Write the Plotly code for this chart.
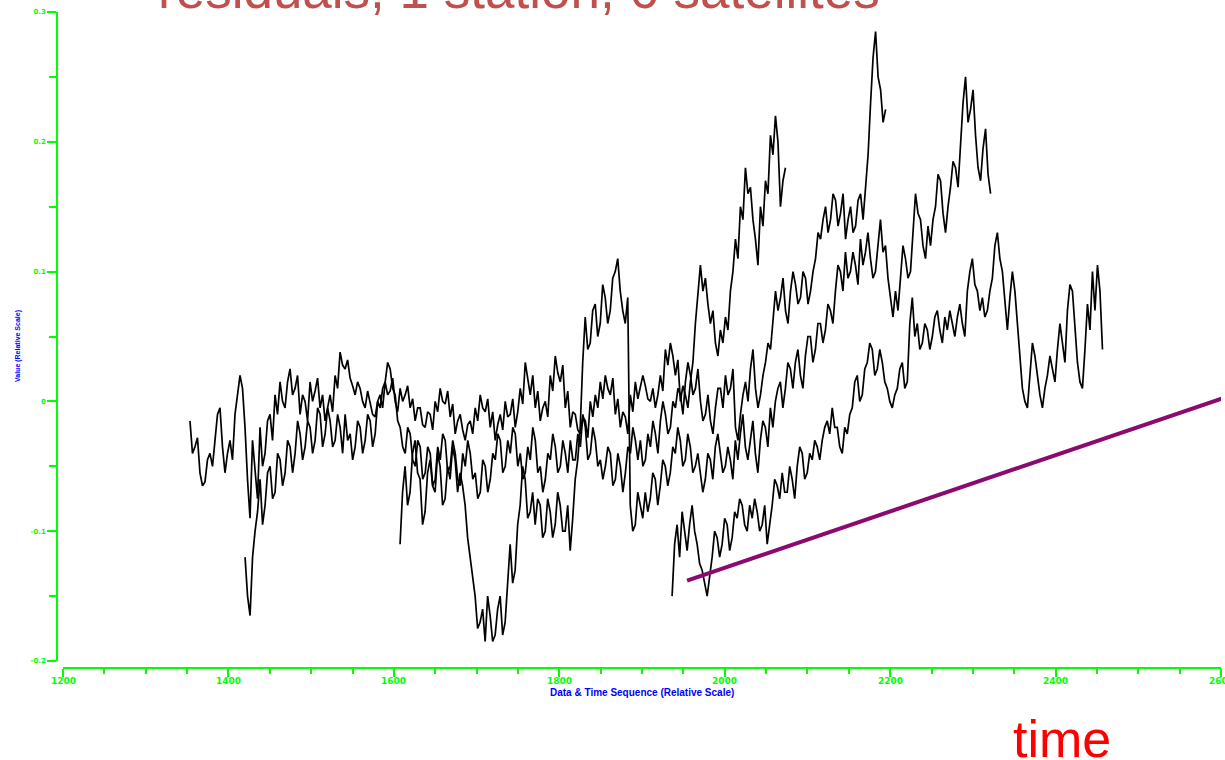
import numpy as np
import plotly.graph_objects as go

# ---- residual series (one per satellite pass), sampled every DT time units ----
DT = 3.025

pass_a_start = 1353.5
pass_a = [
    -0.015, -0.040, -0.035, -0.028, -0.055, -0.065, -0.062, -0.045, -0.040, -0.050,
    -0.030, -0.010, -0.005, -0.035, -0.055, -0.040, -0.030, -0.045, -0.010, 0.005,
    0.020, 0.010, -0.020, -0.060, -0.090, -0.030, -0.050, -0.075, -0.020, -0.050,
    -0.040, -0.015, -0.010, -0.030, 0.005, -0.010, 0.015, 0.000, -0.005, 0.015,
    0.025, 0.005, 0.010, 0.020, -0.010, 0.005, 0.000, -0.015, 0.015, 0.000,
    0.008, 0.018, -0.005, 0.005, -0.015, -0.005, 0.005, -0.008, 0.020, 0.010,
    0.038, 0.028, 0.025, 0.032, 0.018, 0.012, 0.005, 0.015, 0.010, 0.000,
    -0.005, 0.008, 0.000, -0.010, -0.012, 0.000, 0.005, -0.005, 0.015, 0.005,
    0.008, 0.018, 0.000, -0.008, 0.010, 0.000, 0.005, 0.012, -0.005, 0.002,
    -0.015, -0.005, -0.005, -0.018, -0.020, -0.008, -0.010, -0.022, 0.000, -0.008,
    0.010, 0.000, -0.002, 0.008, -0.012, -0.002, -0.025, -0.015, -0.010, -0.022,
    -0.030, -0.018, -0.015, -0.025, -0.005, -0.015, 0.005, -0.005, -0.008, 0.002,
    -0.020, -0.008, -0.030, -0.018, -0.010, -0.022, 0.000, -0.012, -0.010, 0.002,
    -0.020, -0.008, 0.010, -0.002, 0.030, 0.018, 0.005, 0.020, -0.005, 0.008,
    -0.015, -0.005, 0.000, -0.012, 0.020, 0.008, 0.035, 0.022, 0.015, 0.028,
    -0.005, 0.008, -0.020, -0.008, -0.010, -0.022, -0.025, -0.012, -0.015, -0.028,
    0.000, -0.012, 0.005, -0.005, 0.015, 0.002, 0.020, 0.010, 0.005, 0.018,
    -0.010, 0.002, -0.020, -0.008, -0.012, -0.025, 0.005, -0.008, 0.015, 0.002,
    0.010, 0.020, 0.012, 0.002, 0.000, 0.010, -0.005, 0.005, 0.020, 0.008,
    0.040, 0.028, 0.045, 0.035, 0.020, 0.032, 0.000, 0.012, 0.005, -0.005,
    0.015, 0.030, 0.060, 0.080, 0.105, 0.085, 0.095, 0.075, 0.060, 0.070,
    0.045, 0.035, 0.055, 0.045, 0.065, 0.055, 0.085, 0.100, 0.125, 0.110,
    0.150, 0.140, 0.180, 0.160, 0.165, 0.140, 0.125, 0.105, 0.150, 0.135,
    0.170, 0.160, 0.205, 0.190, 0.220, 0.200, 0.150, 0.170, 0.180,
]

pass_b_start = 1420.1
pass_b = [
    -0.120, -0.150, -0.165, -0.120, -0.100, -0.085, -0.060, -0.095, -0.080, -0.055,
    -0.050, -0.075, -0.070, -0.040, -0.045, -0.065, -0.055, -0.030, -0.035, -0.055,
    -0.040, -0.015, -0.025, -0.045, -0.035, -0.015, -0.020, -0.040, -0.030, -0.005,
    -0.010, -0.035, -0.025, -0.005, -0.015, -0.035, -0.030, -0.010, -0.020, -0.040,
    -0.010, -0.030, -0.025, -0.045, -0.035, -0.015, -0.020, -0.040, -0.030, -0.010,
    -0.015, -0.035, -0.025, 0.000, -0.005, 0.010, 0.015, 0.030, 0.025, 0.010,
    0.005, -0.015, -0.020, -0.035, -0.040, -0.020, -0.025, -0.045, -0.050, -0.030,
    -0.035, -0.060, -0.055, -0.035, -0.040, -0.065, -0.060, -0.035, -0.045, -0.025,
    -0.030, -0.055, -0.050, -0.030, -0.040, -0.060, -0.065, -0.040, -0.050, -0.030,
    -0.040, -0.060, -0.055, -0.075, -0.070, -0.045, -0.050, -0.070, -0.060, -0.040,
    -0.045, -0.025, -0.030, -0.055, -0.050, -0.030, -0.040, -0.020, -0.025, -0.050,
    -0.040, -0.060, -0.055, -0.035, -0.045, -0.020, -0.030, -0.055, -0.050, -0.070,
    -0.060, -0.040, -0.045, -0.025, -0.035, -0.055, -0.050, -0.030, -0.040, -0.055,
    -0.030, -0.045, -0.045, -0.025, -0.035, -0.010, -0.020, -0.045, -0.040, -0.020,
    -0.030, -0.050, -0.045, -0.060, -0.050, -0.035, -0.040, -0.065, -0.060, -0.040,
    -0.050, -0.070, -0.055, -0.035, -0.040, -0.020, -0.030, -0.045, -0.030, -0.050,
    -0.045, -0.025, -0.035, -0.015, -0.025, -0.040, -0.015, 0.000, -0.010, -0.025,
    -0.020, 0.000, -0.005, 0.010, 0.005, -0.010, 0.015, 0.030, 0.020, 0.005,
    0.010, 0.025, 0.000, -0.015, -0.010, 0.005, -0.015, -0.025, -0.005, 0.010,
    0.010, -0.005, 0.020, 0.005, 0.010, 0.025, -0.020, -0.030, -0.010, 0.005,
    0.015, 0.000, 0.025, 0.040, 0.010, -0.005, 0.005, 0.020, 0.030, 0.045,
    0.040, 0.065, 0.085, 0.070, 0.080, 0.095, 0.070, 0.060, 0.085, 0.100,
    0.090, 0.075, 0.080, 0.100, 0.095, 0.075, 0.085, 0.100, 0.110, 0.130,
    0.125, 0.140, 0.150, 0.130, 0.140, 0.160, 0.155, 0.135, 0.145, 0.160,
    0.125, 0.140, 0.150, 0.130, 0.135, 0.155, 0.160, 0.140, 0.165, 0.190,
    0.230, 0.265, 0.285, 0.250, 0.240, 0.215, 0.225,
]

pass_c_start = 1607.5
pass_c = [
    -0.110, -0.070, -0.050, -0.080, -0.070, -0.040, -0.030, -0.055, -0.060, -0.095,
    -0.085, -0.055, -0.045, -0.065, -0.070, -0.040, -0.050, -0.080, -0.075, -0.050,
    -0.060, -0.035, -0.045, -0.070, -0.055, -0.065, -0.080, -0.105, -0.120, -0.135,
    -0.150, -0.175, -0.170, -0.160, -0.185, -0.150, -0.165, -0.185, -0.180, -0.160,
    -0.150, -0.180, -0.170, -0.140, -0.110, -0.140, -0.130, -0.095, -0.080, -0.050,
    -0.060, -0.090, -0.085, -0.070, -0.095, -0.075, -0.080, -0.105, -0.100, -0.075,
    -0.085, -0.105, -0.095, -0.070, -0.080, -0.100, -0.100, -0.080, -0.115, -0.090,
    -0.060, -0.045, -0.020, 0.030, 0.065, 0.040, 0.045, 0.070, 0.075, 0.050,
    0.060, 0.090, 0.080, 0.060, 0.070, 0.095, 0.100, 0.110, 0.085, 0.070,
    0.060, 0.080, -0.080, -0.100, -0.095, -0.070, -0.080, -0.090, -0.070, -0.085,
    -0.075, -0.055, -0.060, -0.080, -0.065, -0.045, -0.050, -0.065, -0.055, -0.035,
    -0.040, -0.020, -0.030, -0.050, -0.045, -0.025, -0.035, -0.055, -0.050, -0.040,
    -0.055, -0.070, -0.060, -0.040, -0.045, -0.060, -0.035, -0.025, -0.040, -0.055,
    -0.050, -0.035, -0.045, -0.060, -0.030, -0.045, -0.025, -0.010, -0.035, -0.045,
    -0.030, -0.015, -0.040, -0.055, -0.030, -0.015, -0.020, -0.035, -0.005, -0.020,
    0.000, 0.010, 0.015, -0.005, 0.010, 0.030, 0.025, 0.010, 0.030, 0.040,
    0.020, 0.010, 0.035, 0.050, 0.050, 0.030, 0.040, 0.060, 0.060, 0.045,
    0.055, 0.075, 0.070, 0.060, 0.085, 0.105, 0.100, 0.085, 0.115, 0.095,
    0.100, 0.115, 0.105, 0.090, 0.125, 0.105, 0.115, 0.130, 0.110, 0.095,
    0.100, 0.120, 0.140, 0.115, 0.120, 0.095, 0.080, 0.065, 0.085, 0.070,
    0.095, 0.120, 0.110, 0.095, 0.100, 0.130, 0.160, 0.145, 0.140, 0.120,
    0.110, 0.135, 0.120, 0.140, 0.150, 0.175, 0.170, 0.145, 0.130, 0.150,
    0.165, 0.185, 0.180, 0.165, 0.200, 0.230, 0.250, 0.215, 0.225, 0.240,
    0.205, 0.180, 0.170, 0.195, 0.210, 0.175, 0.160,
]

pass_d_start = 1936.4
pass_d = [
    -0.150, -0.110, -0.095, -0.120, -0.085, -0.100, -0.115, -0.095, -0.080, -0.100,
    -0.110, -0.125, -0.130, -0.140, -0.150, -0.135, -0.120, -0.100, -0.105, -0.120,
    -0.110, -0.090, -0.095, -0.115, -0.105, -0.085, -0.090, -0.075, -0.080, -0.095,
    -0.100, -0.080, -0.090, -0.075, -0.085, -0.100, -0.095, -0.080, -0.110, -0.095,
    -0.080, -0.060, -0.065, -0.075, -0.055, -0.070, -0.070, -0.050, -0.060, -0.075,
    -0.050, -0.035, -0.040, -0.060, -0.055, -0.040, -0.045, -0.030, -0.035, -0.045,
    -0.030, -0.020, -0.015, -0.025, -0.005, -0.020, -0.020, -0.035, -0.040, -0.020,
    -0.025, -0.010, -0.005, 0.015, 0.020, 0.000, 0.005, 0.025, 0.030, 0.045,
    0.040, 0.020, 0.025, 0.040, 0.030, 0.015, 0.010, 0.000, -0.005, 0.005,
    0.010, 0.025, 0.030, 0.010, 0.015, 0.060, 0.080, 0.050, 0.060, 0.040,
    0.045, 0.060, 0.055, 0.040, 0.050, 0.065, 0.070, 0.055, 0.045, 0.065,
    0.055, 0.070, 0.060, 0.050, 0.065, 0.075, 0.060, 0.050, 0.085, 0.100,
    0.110, 0.090, 0.085, 0.070, 0.080, 0.065, 0.070, 0.085, 0.095, 0.120,
    0.130, 0.110, 0.100, 0.080, 0.055, 0.080, 0.100, 0.085, 0.060, 0.030,
    0.010, 0.000, -0.005, 0.020, 0.045, 0.035, 0.020, 0.005, -0.005, 0.010,
    0.020, 0.035, 0.025, 0.015, 0.040, 0.060, 0.045, 0.030, 0.070, 0.090,
    0.085, 0.060, 0.030, 0.015, 0.010, 0.040, 0.075, 0.055, 0.100, 0.070,
    0.105, 0.085, 0.040,
]

# drift line drawn under the last pass
trend_t = [1954.5, 2605.0]
trend_v = [-0.138, 0.003]

# ---- axes ----
x_ticks = [1200, 1400, 1600, 1800, 2000, 2200, 2400, 2600]
x_tick_text = ["1200", "1400", "1600", "1800", "2000", "2200", "2400", "2600"]
y_ticks = [-0.2, -0.1, 0.0, 0.1, 0.2, 0.3]
y_tick_text = ["-0.2", "-0.1", "0", "0.1", "0.2", "0.3"]
X_MIN, X_MAX = 1200, 2600

GREEN = "#00ff00"
BLUE = "#0000ff"

fig = go.Figure()

for start, vals in [(pass_a_start, pass_a), (pass_b_start, pass_b),
                    (pass_c_start, pass_c), (pass_d_start, pass_d)]:
    t = start + DT * np.arange(len(vals))
    fig.add_trace(go.Scatter(x=t, y=vals, mode="lines",
                             line=dict(color="black", width=1.7),
                             hoverinfo="skip", showlegend=False))

fig.add_trace(go.Scatter(x=trend_t, y=trend_v, mode="lines",
                         line=dict(color="#8c0a70", width=4),
                         hoverinfo="skip", showlegend=False))

# plot area in pixels: x 57..1221, y 12..668
L, R, T, B = 57, 4, 12, 92
W, H = 1225 - L - R, 760 - T - B


def px(xp):
    return (xp - L) / W


def py(yp):
    return (760 - B - yp) / H


X0_PX, X1_PX = 63, 1221
x_dom = [px(X0_PX), 1]


def x_to_paper(v):
    return x_dom[0] + (v - X_MIN) / (X_MAX - X_MIN) * (x_dom[1] - x_dom[0])


tick_font_x = dict(family="DejaVu Sans", size=9, color=GREEN, weight="bold")
tick_font_y = dict(family="DejaVu Sans", size=7, color=GREEN, weight="bold")

annotations = [
    dict(text="residuals, 1 station, 6 satellites", xref="paper", yref="paper",
         x=px(156), y=py(21), xanchor="left", yanchor="bottom", showarrow=False,
         font=dict(family="Liberation Sans", size=53, color="#c0504d")),
    dict(text="time", xref="paper", yref="paper",
         x=px(1011), y=py(770), xanchor="left", yanchor="bottom", showarrow=False,
         font=dict(family="Liberation Sans", size=52, color="#ff0000")),
    dict(text="Data & Time Sequence (Relative Scale)", xref="paper", yref="paper",
         x=px(642), y=py(692), xanchor="center", yanchor="middle", showarrow=False,
         font=dict(family="Liberation Sans", size=10, color=BLUE, weight="bold")),
    dict(text="Value (Relative Scale)", xref="paper", yref="paper",
         x=px(18), y=py(346), xanchor="center", yanchor="middle", showarrow=False,
         textangle=-90,
         font=dict(family="Liberation Sans", size=7, color=BLUE, weight="bold")),
]

# x tick labels sit close under the axis line; the last one runs off the page edge
for v, s in zip(x_ticks, x_tick_text):
    annotations.append(dict(text=s, xref="paper", yref="paper",
                            x=x_to_paper(v), y=py(681), xanchor="center",
                            yanchor="middle", showarrow=False, font=tick_font_x))

fig.update_layout(
    width=1225, height=760,
    margin=dict(l=L, r=R, t=T, b=B, autoexpand=False),
    paper_bgcolor="white", plot_bgcolor="white",
    showlegend=False,
    xaxis=dict(
        domain=x_dom, anchor="free", position=0,
        range=[X_MIN, X_MAX], showgrid=False, zeroline=False,
        showline=True, linecolor=GREEN, linewidth=1.5,
        tickmode="array", tickvals=x_ticks, showticklabels=False,
        ticks="outside", ticklen=8, tickwidth=1.5, tickcolor=GREEN,
        automargin=False,
        minor=dict(tickmode="array",
                   tickvals=[v for v in range(X_MIN, X_MAX + 1, 50) if v % 200],
                   ticks="outside", ticklen=5, tickwidth=1.5,
                   tickcolor=GREEN, showgrid=False),
    ),
    yaxis=dict(
        domain=[py(661), 1], anchor="free", position=0,
        range=[-0.2, 0.3], showgrid=False, zeroline=False,
        showline=True, linecolor=GREEN, linewidth=1.5,
        tickmode="array", tickvals=y_ticks, ticktext=y_tick_text,
        ticks="outside", ticklen=9, tickwidth=1.5, tickcolor=GREEN,
        tickfont=tick_font_y, automargin=False,
        minor=dict(tickmode="array",
                   tickvals=[-0.15, -0.05, 0.05, 0.15, 0.25],
                   ticks="outside", ticklen=7, tickwidth=1.5,
                   tickcolor=GREEN, showgrid=False),
    ),
    annotations=annotations,
)

fig.write_html("out.html", config={"displayModeBar": False})
